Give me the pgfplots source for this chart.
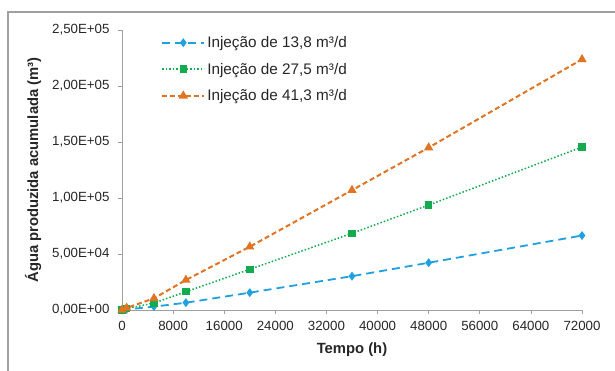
\documentclass[border=0pt]{standalone}
\usepackage{fontspec}
\setmainfont{Liberation Sans}
\usepackage{pgfplots}
\pgfplotsset{compat=1.18}
\definecolor{cblue}{RGB}{30,160,225}
\definecolor{cgreen}{RGB}{20,170,80}
\definecolor{corange}{RGB}{225,115,35}
\definecolor{axgray}{RGB}{160,160,160}
\begin{document}
\begin{tikzpicture}[x=1bp,y=1bp]
\path[use as bounding box] (0,0) rectangle (615,370);
\draw[color=axgray, line width=1.2bp] (8,-2) rectangle (616,358);
\begin{axis}[
  at={(122bp,60bp)}, anchor=south west,
  scale only axis, width=460bp, height=280bp,
  xmin=0, xmax=72000, ymin=0, ymax=250000,
  axis x line=bottom, axis y line=left,
  axis line style={color=axgray, line width=0.8bp, -},
  tick style={color=axgray, line width=0.8bp},
  tick align=outside, major tick length=4bp,
  xtick={0,8000,...,72000},
  scaled x ticks=false, scaled y ticks=false,
  ytick={0,50000,100000,150000,200000,250000},
  yticklabels={{0,00E+00},{5,00E+04},{1,00E+05},{1,50E+05},{2,00E+05},{2,50E+05}},
  ticklabel style={font=\fontsize{13.3bp}{15bp}\selectfont, color=black!85},
  xticklabel style={yshift=-4bp, /pgf/number format/.cd, fixed, 1000 sep={}, assume math mode=true},
  yticklabel style={xshift=-5bp},
  xlabel={\bfseries Tempo (h)},
  ylabel={\bfseries Água produzida acumulada (m³)},
  every axis x label/.style={at={(axis description cs:0.5,-0.143)}, anchor=center,
    font=\fontsize{14.8bp}{16bp}\selectfont, color=black!85},
  every axis y label/.style={at={(axis description cs:-0.193,0.5)}, rotate=90, anchor=center,
    font=\fontsize{14.8bp}{16bp}\selectfont, color=black!85},
  legend style={draw=none, fill=none, at={(0.085,0.985)}, anchor=north west,
    font=\fontsize{15.3bp}{17bp}\selectfont, row sep=10bp, text=black!85,
    inner sep=0pt, cells={anchor=west}},
  legend image code/.code={\draw[mark repeat=2,mark phase=2] plot coordinates {(0bp,0bp)(21bp,0bp)(42bp,0bp)};},
]
\addplot[color=cblue, line width=1.8bp, dash pattern=on 8bp off 5bp, mark=diamond*, mark size=3bp, mark options={solid}]
 coordinates {(0,0) (720,500) (5000,3000) (10000,6500) (20000,15500) (36000,30200) (48000,42200) (72000,66500)};
\addlegendentry{Injeção de 13,8 m³/d}
\addplot[color=cgreen, line width=1.5bp, dash pattern=on 1.5bp off 2bp, mark=square*, mark size=3bp, mark options={solid}]
 coordinates {(0,0) (720,1200) (5000,6200) (10000,16300) (20000,36300) (36000,68500) (48000,93700) (72000,145500)};
\addlegendentry{Injeção de 27,5 m³/d}
\addplot[color=corange, line width=2bp, dash pattern=on 5bp off 3bp, mark=triangle*, mark size=3.4bp, mark options={solid}]
 coordinates {(0,0) (720,1800) (5000,10400) (10000,26800) (20000,56500) (36000,107000) (48000,145000) (72000,223800)};
\addlegendentry{Injeção de 41,3 m³/d}
\end{axis}
\end{tikzpicture}
\end{document}
